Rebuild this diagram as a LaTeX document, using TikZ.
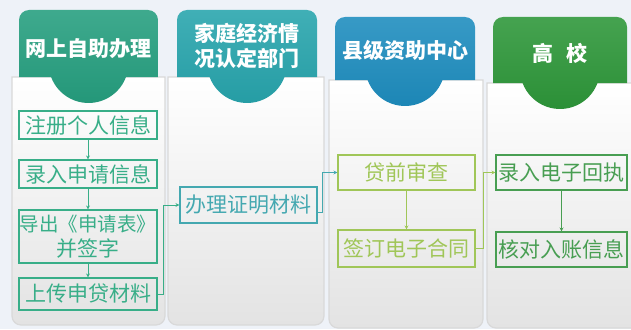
\documentclass[tikz,border=0pt]{standalone}
\usepackage{fontspec}
\setmainfont{Noto Sans CJK SC}
\usepackage{xcolor}
\usepackage{tikz}
\usetikzlibrary{arrows.meta, calc}

% === Colours ===
\definecolor{bgpage}{RGB}{238,242,248}
\definecolor{headA}{RGB}{36,158,126}
\definecolor{headB}{RGB}{38,164,172}
\definecolor{headC}{RGB}{28,140,190}
\definecolor{headD}{RGB}{44,150,56}
\definecolor{boxA}{RGB}{56,174,136}
\definecolor{boxB}{RGB}{68,168,176}
\definecolor{boxC}{RGB}{160,198,88}
\definecolor{boxD}{RGB}{72,158,82}

\tikzset{
  panel/.style={draw=gray!30, line width=1.2pt, top color=white, bottom color=gray!22},
  stepbox/.style={draw=#1, text=#1, line width=1.1pt, minimum width=138pt,
    minimum height=28pt, inner sep=0pt, font=\fontsize{21}{25}\selectfont},
  headtext/.style={text=white, align=center, font=\fontsize{21}{25}\selectfont\bfseries},
  flow/.style={-{Stealth[length=4pt, width=4pt]}, line width=1pt, draw=#1},
}

% column header: x1, x2, top, bottom, colour
\newcommand{\colhead}[5]{%
  \pgfmathsetmacro{\cx}{(#1+#2)/2}
  \shade[top color=#5!88!white, bottom color=#5!95!black]
    (#1,#4) [rounded corners=10pt] -- (#1,#3) -- (#2,#3) [sharp corners] -- (#2,#4)
    -- ({\cx+37.5},#4) arc[start angle=20.5, end angle=159.5, radius=40] -- cycle;
}

\begin{document}
\begin{tikzpicture}[x=1pt, y=-1pt, >=Stealth]

% === Page ===
\useasboundingbox (0,0) rectangle (631,329);
\fill[bgpage] (0,0) rectangle (631,329);

% === Panels ===
\draw[panel] (12,77) [rounded corners=9pt] -- (12,325) -- (165,325) [sharp corners] -- (165,77) -- cycle;
\draw[panel] (168,77) [rounded corners=9pt] -- (168,325) -- (324,325) [sharp corners] -- (324,77) -- cycle;
\draw[panel] (329,80) [rounded corners=9pt] -- (329,328) -- (483,328) [sharp corners] -- (483,80) -- cycle;
\draw[panel] (487,83) [rounded corners=9pt] -- (487,328) -- (645,328) [sharp corners] -- (645,83) -- cycle;

% === Headers ===
\colhead{19}{158}{10}{77}{headA}
\colhead{177}{317}{10}{77}{headB}
\colhead{335}{475}{17}{80}{headC}
\colhead{493}{627}{17}{83}{headD}

\node[headtext] (headA) at (88.5,49) {网上自助办理};
\node[headtext] (headB) at (247,46) {家庭经济情\\况认定部门};
\node[headtext] (headC) at (405,50) {县级资助中心};
\node[headtext] (headD) at (560,53) {高\hspace{0.6em}校};

% === Steps ===
\node[stepbox=boxA] (reg) at (88,125) {注册个人信息};
\node[stepbox=boxA] (enter) at (88,174) {录入申请信息};
\node[stepbox=boxA, minimum height=53pt, align=center] (export) at (88,236.5)
  {\fontsize{19.5}{25}\selectfont 导出《申请表》\\\fontsize{21}{25}\selectfont 并签字};
\node[stepbox=boxA, minimum height=32pt] (upload) at (88,294) {上传申贷材料};

\node[stepbox=boxB, minimum width=137pt, minimum height=36pt] (cert) at (248.5,205) {办理证明材料};

\node[stepbox=boxC, minimum width=137pt, minimum height=35pt] (loan) at (406.5,172.5) {贷前审查};
\node[stepbox=boxC, minimum width=137pt, minimum height=37pt] (contract) at (406.5,248.5) {签订电子合同};

\node[stepbox=boxD, minimum width=131pt, minimum height=35pt] (receipt) at (561.5,172.5) {录入电子回执};
\node[stepbox=boxD, minimum width=131pt, minimum height=35pt] (verify) at (561.5,249.5) {核对入账信息};

% === Flow ===
\draw[flow=boxA] (reg) -- (enter);
\draw[flow=boxA] (enter) -- (export);
\draw[flow=boxA] (export) -- (upload);
\draw[flow=boxA] (upload.east) -- ++(6,0) |- (cert.west);
\draw[flow=boxB] ([yshift=-7pt]cert.east) -- ++(5,0) |- (loan.west);
\draw[flow=boxC] (loan) -- (contract);
\draw[flow=boxC] (contract.east) -- ++(8,0) |- (receipt.west);
\draw[flow=boxD] (receipt) -- (verify);

\end{tikzpicture}
\end{document}
